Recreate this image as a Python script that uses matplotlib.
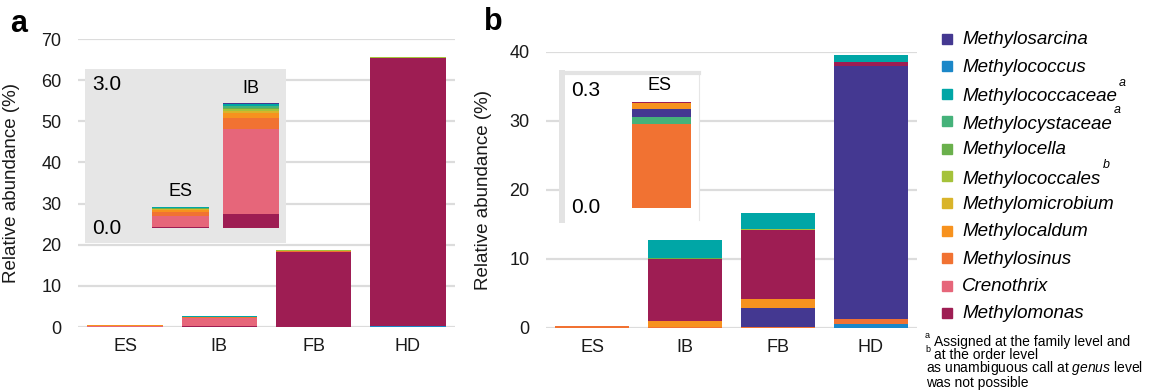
import numpy as np
import matplotlib.pyplot as plt

plt.rcParams['font.family'] = ['Liberation Sans', 'DejaVu Sans']
plt.rcParams['mathtext.fontset'] = 'custom'
plt.rcParams['mathtext.it'] = 'Liberation Sans:italic'
plt.rcParams['mathtext.rm'] = 'Liberation Sans'

sites = ['ES', 'IB', 'FB', 'HD']
taxa = ['Methylosarcina', 'Methylococcus', 'Methylococcaceae', 'Methylocystaceae',
        'Methylocella', 'Methylococcales', 'Methylomicrobium', 'Methylocaldum',
        'Methylosinus', 'Crenothrix', 'Methylomonas']
taxa_sup = ['', '', 'a', 'a', '', 'b', '', '', '', '', '']
colors = ['#443891', '#1b87c8', '#00a6a6', '#45b27a', '#6ab04c', '#a5c23a',
          '#d9b42a', '#f7921e', '#f17232', '#e6667a', '#9e1d53']

# relative abundance (%) per taxon, values for ES, IB, FB, HD
abund_a = {
    'Methylosarcina':   [0.0, 0.01, 0.0, 0.0],
    'Methylococcus':    [0.0, 0.01, 0.0, 0.3],
    'Methylococcaceae': [0.02, 0.05, 0.05, 0.05],
    'Methylocystaceae': [0.01, 0.03, 0.0, 0.0],
    'Methylocella':     [0.01, 0.03, 0.1, 0.1],
    'Methylococcales':  [0.01, 0.04, 0.15, 0.1],
    'Methylomicrobium': [0.02, 0.04, 0.05, 0.0],
    'Methylocaldum':    [0.05, 0.10, 0.05, 0.05],
    'Methylosinus':     [0.08, 0.23, 0.1, 0.05],
    'Crenothrix':       [0.23, 1.79, 0.1, 0.05],
    'Methylomonas':     [0.02, 0.28, 18.2, 65.0],
}
abund_b = {
    'Methylosarcina':   [0.020, 0.0, 2.8, 36.77],
    'Methylococcus':    [0.0, 0.0, 0.0, 0.48],
    'Methylococcaceae': [0.0, 2.5, 2.2, 1.07],
    'Methylocystaceae': [0.018, 0.0, 0.0, 0.0],
    'Methylocella':     [0.0, 0.1, 0.1, 0.0],
    'Methylococcales':  [0.0, 0.1, 0.15, 0.0],
    'Methylomicrobium': [0.0, 0.0, 0.0, 0.0],
    'Methylocaldum':    [0.014, 0.85, 1.26, 0.0],
    'Methylosinus':     [0.216, 0.15, 0.05, 0.72],
    'Crenothrix':       [0.0, 0.0, 0.0, 0.0],
    'Methylomonas':     [0.003, 8.95, 10.0, 0.53],
}

# stacking order (bottom to top) used in each panel
order_a = ['Methylococcus', 'Methylomonas', 'Crenothrix', 'Methylosinus', 'Methylocaldum',
           'Methylomicrobium', 'Methylococcales', 'Methylocella', 'Methylocystaceae',
           'Methylococcaceae', 'Methylosarcina']
order_b = ['Methylococcus', 'Methylosinus', 'Methylocystaceae', 'Methylosarcina',
           'Methylocaldum', 'Methylomonas', 'Crenothrix', 'Methylomicrobium',
           'Methylocella', 'Methylococcales', 'Methylococcaceae']

color_of = dict(zip(taxa, colors))
W, H = 1149, 391


def px_axes(fig, left, top, right, bottom):
    return fig.add_axes([left / W, (H - bottom) / H, (right - left) / W, (bottom - top) / H])


def stack(ax, data, order, idx, xpos):
    bottom = np.zeros(len(idx))
    for name in order:
        vals = np.array([data[name][i] for i in idx])
        ax.bar(xpos, vals, 0.8, bottom=bottom, color=color_of[name], linewidth=0)
        bottom += vals


def main_panel(ax, data, order, ymax, step):
    stack(ax, data, order, range(4), np.arange(4))
    ax.set_xlim(-0.5, 3.5)
    ax.set_ylim(0, ymax)
    ax.set_yticks(np.arange(0, ymax + 1, step))
    ax.set_xticks(np.arange(4))
    ax.set_xticklabels(sites)
    ax.yaxis.grid(True, color='#dcdcdc', linewidth=1.6)
    ax.set_axisbelow(True)
    for s in ax.spines.values():
        s.set_visible(False)
    ax.tick_params(axis='y', length=0, pad=12, labelsize=13, labelcolor='#1a1a1a')
    ax.tick_params(axis='x', length=0, pad=8, labelsize=13, labelcolor='#1a1a1a')
    ax.set_ylabel('Relative abundance (%)', fontsize=13.5, color='#1a1a1a')


fig = plt.figure(figsize=(W / 100, H / 100), dpi=100)

# panel a
ax_a = px_axes(fig, 78, 39, 455, 327)
main_panel(ax_a, abund_a, order_a, 70, 10)
ax_a.yaxis.set_label_coords(-0.154, 0.5)
fig.text(10 / W, 1 - 24 / H, 'a', fontsize=22, fontweight='bold', va='center')

ins_a = px_axes(fig, 85, 69, 286, 243)
stack(ins_a, abund_a, order_a, [0, 1], np.array([1, 2]))
ins_a.set_xlim(-0.354, 2.497)
ins_a.set_ylim(-0.31, 3.33)
ins_a.set_facecolor('#e6e6e6')
ins_a.set_xticks([])
ins_a.set_yticks([])
for s in ins_a.spines.values():
    s.set_visible(False)
ins_a.text(0.035, 3.0, '3.0', transform=ins_a.get_yaxis_transform(), fontsize=15, va='center')
ins_a.text(0.035, 0.0, '0.0', transform=ins_a.get_yaxis_transform(), fontsize=15, va='center')
ins_a.text(1, 0.76, 'ES', fontsize=13, ha='center', va='center')
ins_a.text(2, 2.93, 'IB', fontsize=13, ha='center', va='center')

# panel b
ax_b = px_axes(fig, 546, 51.7, 917, 327.7)
main_panel(ax_b, abund_b, order_b, 40, 10)
ax_b.yaxis.set_label_coords(-0.146, 0.5)
fig.text(484 / W, 1 - 22 / H, 'b', fontsize=22, fontweight='bold', va='center')

ins_b = px_axes(fig, 562, 73, 699, 220)
stack(ins_b, abund_b, order_b, [0], np.array([0]))
ins_b.set_xlim(-1.35, 0.513)
ins_b.set_ylim(-0.032, 0.346)
ins_b.set_xticks([])
ins_b.set_yticks([])
ins_b.spines['bottom'].set_visible(False)
ins_b.spines['left'].set_color('#e3e3e3')
ins_b.spines['left'].set_linewidth(4.3)
ins_b.spines['top'].set_color('#e3e3e3')
ins_b.spines['top'].set_linewidth(3.0)
ins_b.spines['right'].set_color('#e6e6e6')
ins_b.spines['right'].set_linewidth(0.8)
ins_b.text(0.07, 0.3, '0.3', transform=ins_b.get_yaxis_transform(), fontsize=15, va='center')
ins_b.text(0.07, 0.0, '0.0', transform=ins_b.get_yaxis_transform(), fontsize=15, va='center')
ins_b.text(-0.02, 0.315, 'ES', fontsize=13, ha='center', va='center')

# legend drawn by hand in pixel space
lax = fig.add_axes([0, 0, 1, 1])
lax.set_xlim(0, W)
lax.set_ylim(H, 0)
lax.axis('off')
for i, (name, sup) in enumerate(zip(taxa, taxa_sup)):
    y = 39 + 27.4 * i
    lax.add_patch(plt.Rectangle((942, y - 5), 10, 10, color=color_of[name]))
    t = lax.text(962, y + (3 if sup else 1), name, fontsize=13.5, style='italic',
                 va='center', ha='left')
    if sup:
        lax.annotate(sup, xy=(1, 1), xycoords=t, xytext=(1.5, 4), textcoords='offset points',
                     fontsize=9, style='italic', va='center', ha='left')

# footnote
lax.text(925, 336, 'a', fontsize=6.5, va='center')
lax.text(925, 349, 'b', fontsize=6.5, va='center')
lax.text(934, 335, 'Assigned at the family level and\nat the order level',
         fontsize=10, va='top', linespacing=0.92)
lax.text(926, 359, 'as unambiguous call at $\\it{genus}$ level\nwas not possible',
         fontsize=10, va='top', linespacing=0.92)

fig.savefig('out.png', dpi=100)
